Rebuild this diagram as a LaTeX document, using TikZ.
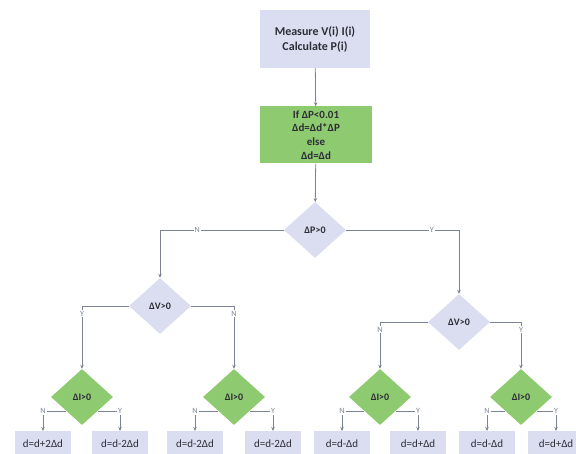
\documentclass[tikz,border=0pt]{standalone}
\usepackage{fontspec}
\setmainfont{Carlito}
\usepackage{xcolor}
\usetikzlibrary{arrows.meta,shapes,calc}

\definecolor{boxblue}{RGB}{218,222,240}
\definecolor{boxgreen}{RGB}{142,202,112}
\definecolor{linegray}{RGB}{122,132,148}
\definecolor{txtdark}{RGB}{45,45,55}

\begin{document}
\begin{tikzpicture}[x=1pt,y=-1pt]
            \tikzset{block/.style = {rectangle, fill=boxblue, text=txtdark, align=center, inner sep=0pt}}
            \tikzset{test/.style = {diamond, fill=boxblue, text=txtdark, font=\bfseries\fontsize{10}{12}\selectfont, minimum width=62pt, minimum height=56pt, inner sep=0pt}}
            \tikzset{result/.style = {rectangle, fill=boxblue, text=txtdark, font=\fontsize{11}{13}\selectfont, minimum width=56pt, minimum height=25pt, anchor=north, inner sep=0pt}}
            \tikzset{edge/.style = {draw=linegray, line width=0.8pt, -{Stealth[length=4pt,width=3.5pt]}}}
            \tikzset{yn/.style = {fill=white, text=linegray, font=\fontsize{8}{9}\selectfont, inner sep=1pt}}

            \useasboundingbox (0,0) rectangle (576,454);

            % blocks
            \node[block, minimum width=110pt, minimum height=58pt, font=\bfseries\fontsize{12}{15}\selectfont] (meas) at (315,39) {Measure V(i) I(i)\\Calculate P(i)};
            \node[block, fill=boxgreen, minimum width=112pt, minimum height=57pt, font=\bfseries\fontsize{11}{13.7}\selectfont] (upd) at (316,135) {If ΔP<0.01\\Δd=Δd*ΔP\\else\\Δd=Δd};

            % tests
            \node[test] (dp) at (315,230) {ΔP>0};
            \node[test] (dv1) at (160,306) {ΔV>0};
            \node[test] (dv2) at (459,322) {ΔV>0};
            \foreach \n/\x in {1/82,2/234,3/380,4/521}
            {
              \node[test, fill=boxgreen] (di\n) at (\x,397) {ΔI>0};
            }

            % results
            \foreach \n/\x/\t in {1/43/d=d+2Δd,2/120/d=d-2Δd,3/195/d=d-2Δd,4/273/d=d-2Δd,5/342/d=d-Δd,6/418/d=d+Δd,7/487/d=d-Δd,8/556/d=d+Δd}
            {
              \node[result] (b\n) at (\x,431) {\t};
            }

            % edges
            \draw[edge] (meas) to (upd);
            \draw[edge] (upd) to (dp);
            \draw[edge] (dp.west) -| node[yn, pos=0.35] {N} (dv1.north);
            \draw[edge] (dp.east) -| node[yn, pos=0.38] {Y} (dv2.north);
            \draw[edge] (dv1.west) -| node[yn, pos=0.56] {Y} (di1.north);
            \draw[edge] (dv1.east) -| node[yn, pos=0.56] {N} (di2.north);
            \draw[edge] (dv2.west) -| node[yn, pos=0.58] {N} (di3.north);
            \draw[edge] (dv2.east) -| node[yn, pos=0.58] {Y} (di4.north);
            \foreach \n/\l/\r in {1/1/2,2/3/4,3/5/6,4/7/8}
            {
              \draw[edge] (di\n.south west) -| node[yn, pos=0.5] {N} (b\l.north);
              \draw[edge] (di\n.south east) -| node[yn, pos=0.5] {Y} (b\r.north);
            }

\end{tikzpicture}
\end{document}
